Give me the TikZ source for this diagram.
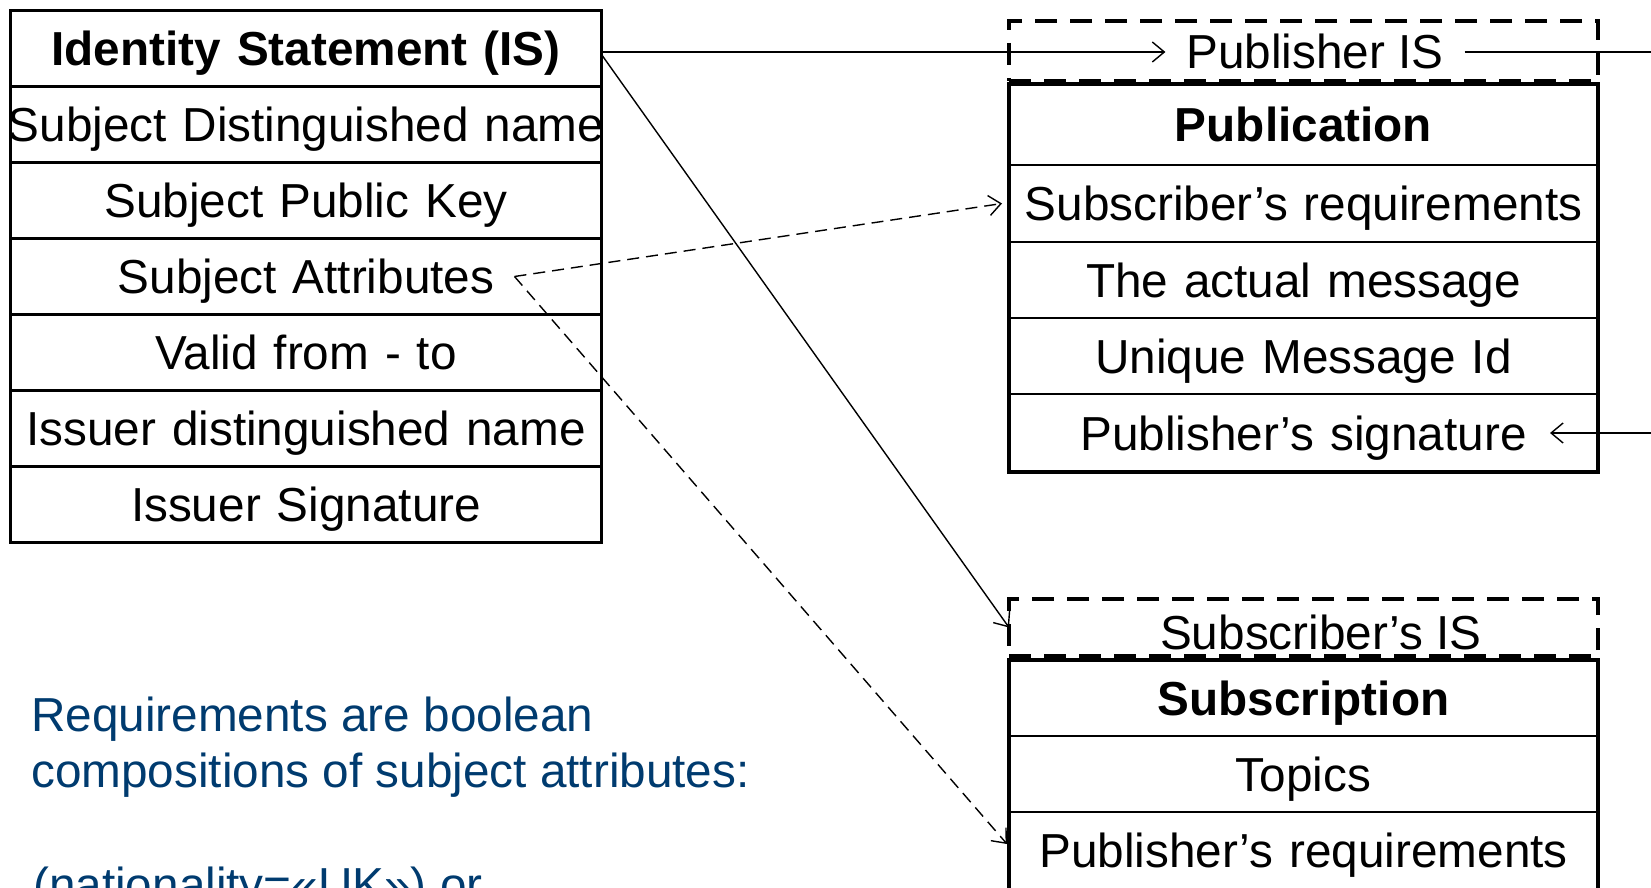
\documentclass[tikz,border=0pt]{standalone}
\usepackage{fontspec}
\setmainfont{Liberation Sans}
\usetikzlibrary{arrows.meta}
\definecolor{noteblue}{RGB}{0,59,111}
\newcommand{\bigfs}{\fontsize{47.7pt}{56pt}\selectfont}
\begin{document}
\begin{tikzpicture}[x=1pt,y=-1pt,
  cell/.style={rectangle, draw, line width=2.2pt, minimum height=76pt,
    text width=#1, minimum width=#1, inner sep=0pt, outer sep=0pt, align=center,
    anchor=north west, font=\bigfs, text height=34pt, text depth=0pt},
  boldcell/.style={cell=#1, font=\bigfs\bfseries},
  frame/.style={draw, line width=3.8pt},
  isbox/.style={rectangle, draw, line width=3.8pt, dash pattern=on 22pt off 13pt,
    minimum width=589pt, minimum height=#1, inner sep=0pt, outer sep=0pt, anchor=north west},
  lbl/.style={font=\bigfs, inner xsep=21pt, inner ysep=0pt, outer sep=0pt, text height=34pt, text depth=0pt},
  wire/.style={line width=1.4pt},
  conn/.style={wire, -{Straight Barb[length=12pt,width=20pt]}},
  dconn/.style={conn, dash pattern=on 12pt off 7pt},
  note/.style={anchor=base west, inner sep=0pt, text=noteblue, font=\bigfs}
]
\useasboundingbox (0,0) rectangle (1651,888);
\clip (0,0) rectangle (1651,888);

% Identity Statement box
\node[boldcell=591pt] (ishdr) at (10.5,10.5) {Identity Statement (IS)};
\node[cell=591pt] (sdn) at (ishdr.south west) {\makebox[591pt]{Subject Distinguished name}};
\node[cell=591pt] (spk) at (sdn.south west) {Subject Public Key};
\node[cell=591pt] (attr) at (spk.south west) {Subject Attributes};
\node[cell=591pt] (valid) at (attr.south west) {Valid from - to};
\node[cell=591pt] (idn) at (valid.south west) {Issuer distinguished name};
\node[cell=591pt] (isig) at (idn.south west) {Issuer Signature};
\draw[frame] (ishdr.north west) rectangle (isig.south east);

% Publication
\node[isbox=60pt] (pubisbox) at (1009,21) {};
\node[lbl] (pubis) at (1315,52) {Publisher IS};
\node[boldcell=589pt, minimum height=81pt] (pubhdr) at (1009,84) {Publication};
\node[cell=589pt, minimum height=77pt] (subreq) at (pubhdr.south west) {Subscriber’s requirements};
\node[cell=589pt] (actual) at (subreq.south west) {The actual message};
\node[cell=589pt] (uid) at (actual.south west) {Unique Message Id};
\node[cell=589pt, minimum height=78pt] (pubsig) at (uid.south west) {Publisher’s signature};
\draw[frame] (pubhdr.north west) rectangle (pubsig.south east);

% Subscription
\node[isbox=57pt] (subisbox) at (1009,599) {};
\node[lbl] (subis) at (1321,632) {Subscriber’s IS};
\node[boldcell=589pt] (subhdr) at (1009,660) {Subscription};
\node[cell=589pt] (topics) at (subhdr.south west) {Topics};
\node[cell=589pt, draw=none] (pubreq) at (topics.south west) {Publisher’s requirements};
\draw[frame] ([yshift=-30pt]pubreq.south west) -- (subhdr.north west) -- (subhdr.north east) -- ([yshift=-30pt]pubreq.south east);

% Note
\node[note] (n1) at (31,731) {Requirements are boolean};
\node[note] (n2) at (31,787) {compositions of subject attributes:};
\node[note] (n3) at (33,901) {(nationality=«UK») or};

% Connectors
\coordinate (edgetop) at (1651,52);
\coordinate (edgesig) at (1651,433);
\coordinate (attrsrc) at ([xshift=-87pt]attr.east);
\draw[conn] ([yshift=-3.5pt]ishdr.east) -- (pubis.west);
\draw[wire] (pubis.east) -- (edgetop);
\draw[conn] (edgesig) -- ([xshift=-48pt]pubsig.east);
\draw[conn] ([yshift=-6pt]ishdr.east) -- (subisbox.west);
\draw[dconn] (attrsrc) -- ([xshift=-7pt]subreq.west);
\draw[dconn] (attrsrc) -- ([xshift=-2pt,yshift=6pt]pubreq.west);
\end{tikzpicture}
\end{document}
